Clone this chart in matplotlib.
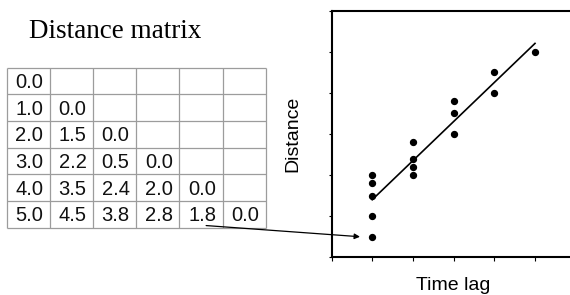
import numpy as np
import matplotlib
matplotlib.use('Agg')
import matplotlib.pyplot as plt
from matplotlib.patches import ConnectionPatch

# lower triangle of the distance matrix, row by row
matrix_rows = [
    [0.0],
    [1.0, 0.0],
    [2.0, 1.5, 0.0],
    [3.0, 2.2, 0.5, 0.0],
    [4.0, 3.5, 2.4, 2.0, 0.0],
    [5.0, 4.5, 3.8, 2.8, 1.8, 0.0],
]

# time lag / distance pairs taken from the matrix diagonals
lag_values = [1, 1, 1, 1, 1, 2, 2, 2, 2, 3, 3, 3, 4, 4, 5]
dist_values = [1.0, 1.5, 0.5, 2.0, 1.8, 2.0, 2.2, 2.4, 2.8, 3.0, 3.5, 3.8, 4.0, 4.5, 5.0]

n = len(matrix_rows)

fig = plt.figure(figsize=(5.7, 2.95), dpi=100)

fig.text(29 / 570, 1 - 38 / 295, 'Distance matrix', family='Liberation Serif',
         fontsize=19.5, ha='left', va='baseline')

# table
W, H = 570, 295
tl, tr, tt, tb = 6.7, 265.7, 67.7, 227.7
axt = fig.add_axes([tl / W, 1 - tb / H, (tr - tl) / W, (tb - tt) / H])
axt.set_xlim(0, n)
axt.set_ylim(n, 0)
axt.axis('off')
grid_kw = dict(color='#9c9c9c', lw=0.9, clip_on=False)
axt.hlines(range(n + 1), 0, n, **grid_kw)
axt.vlines(range(n + 1), 0, n, **grid_kw)
for i, row in enumerate(matrix_rows):
    for j, v in enumerate(row):
        axt.text(j + 0.2, i + 0.56, f'{v:.1f}', family='Liberation Sans',
                 fontsize=14.5, ha='left', va='center', color='#111111')

# scatter plot
al, at, ab = 331.5, 10.5, 257.3
ax = fig.add_axes([al / W, 1 - ab / H, 6 * 40.7 / W, (ab - at) / H])
ax.scatter(lag_values, dist_values, s=18, color='black', zorder=3)
slope, icpt = np.polyfit(lag_values, dist_values, 1)
xs = np.array([min(lag_values), max(lag_values)])
ax.plot(xs, slope * xs + icpt, color='black', lw=1.2)
ax.set_xlim(0, 6)
ax.set_ylim(0, 6)
ax.set_xticks(range(7))
ax.set_yticks(range(7))
ax.tick_params(axis='x', length=3, width=0.8, labelbottom=False)
ax.tick_params(axis='y', length=2, width=0.8, labelleft=False)
for s in ax.spines.values():
    s.set_linewidth(1.5)
ax.set_xlabel('Time lag', family='Liberation Sans', fontsize=14)
ax.xaxis.set_label_coords(0.5, -0.08)
ax.set_ylabel('Distance', family='Liberation Sans', fontsize=14)
ax.yaxis.set_label_coords(-0.125, 0.5)

# arrow from the 1.8 cell to its point in the plot
con = ConnectionPatch(xyA=(4.62, 5.92), coordsA=axt.transData,
                      xyB=(lag_values[4] - 0.3, dist_values[2]), coordsB=ax.transData,
                      arrowstyle='-|>', mutation_scale=8, lw=0.9, color='black')
fig.add_artist(con)

fig.savefig('out.png', dpi=100)
